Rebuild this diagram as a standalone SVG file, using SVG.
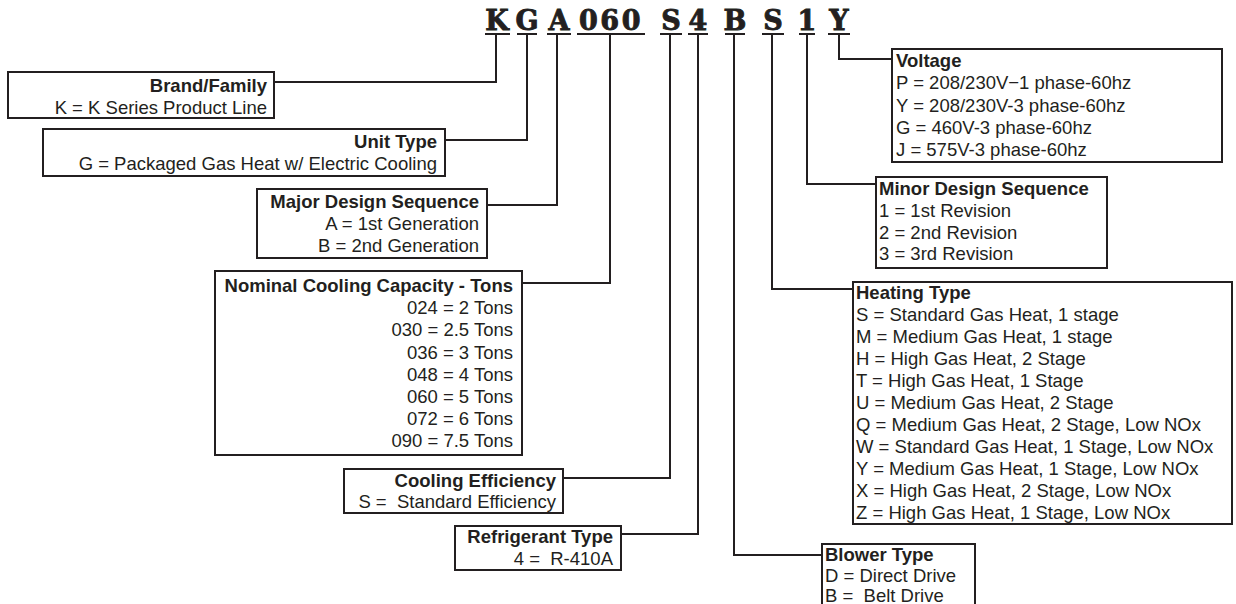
<svg xmlns="http://www.w3.org/2000/svg" width="1236" height="604" viewBox="0 0 1236 604">
<style>
.box{fill:#fff;stroke:#231f20;stroke-width:2}
.ln{fill:none;stroke:#231f20;stroke-width:2}
.t{font-family:"Liberation Sans",Arial,sans-serif;font-size:18.5px;fill:#231f20}
.h{font-weight:bold}
.r{text-anchor:end}
.code{font-family:"DejaVu Serif","Liberation Serif",serif;font-weight:bold;font-size:27px;fill:#231f20;stroke:#231f20;stroke-width:0.9;text-anchor:middle}
</style>
<rect width="1236" height="604" fill="#fff"/>
<g id="code">
<text class="code" x="497" y="30">K</text>
<text class="code" x="527" y="30">G</text>
<text class="code" x="559" y="30">A</text>
<text class="code" x="611" y="30" letter-spacing="2.5">060</text>
<text class="code" x="671" y="30">S</text>
<text class="code" x="698" y="30">4</text>
<text class="code" x="735" y="30">B</text>
<text class="code" x="773" y="30">S</text>
<text class="code" x="807" y="30">1</text>
<text class="code" x="839" y="30">Y</text>
<path class="ln" d="M485 34H510M517 34H537M547 34H571M577 34H645M660 34H682M688 34H708M725 34H745M762 34H784M799 34H815M828 34H850"/>
</g>
<g id="connectors">
<path class="ln" d="M496 34V82H274"/>
<path class="ln" d="M527 34V140H445"/>
<path class="ln" d="M557 34V205H487"/>
<path class="ln" d="M610 34V283H522"/>
<path class="ln" d="M670 34V478H563"/>
<path class="ln" d="M698 34V534H621"/>
<path class="ln" d="M839 34V59H892"/>
<path class="ln" d="M807 34V184H876"/>
<path class="ln" d="M772 34V289H853"/>
<path class="ln" d="M734 34V555H822"/>
</g>
<g id="brand">
<rect class="box" x="8" y="72" width="266" height="46"/>
<text class="t h r" x="267" y="91.5">Brand/Family</text>
<text class="t r" x="267" y="113.5">K = K Series Product Line</text>
</g>
<g id="unit">
<rect class="box" x="43" y="129" width="402" height="47"/>
<text class="t h r" x="437" y="148">Unit Type</text>
<text class="t r" x="437" y="170">G = Packaged Gas Heat w/ Electric Cooling</text>
</g>
<g id="major">
<rect class="box" x="257" y="189" width="230" height="69"/>
<text class="t h r" x="479" y="208">Major Design Sequence</text>
<text class="t r" x="479" y="230">A = 1st Generation</text>
<text class="t r" x="479" y="252">B = 2nd Generation</text>
</g>
<g id="capacity">
<rect class="box" x="215" y="271" width="307" height="184"/>
<text class="t h r" x="513" y="292">Nominal Cooling Capacity - Tons</text>
<text class="t r" x="513" y="314">024 = 2 Tons</text>
<text class="t r" x="513" y="336">030 = 2.5 Tons</text>
<text class="t r" x="513" y="358.5">036 = 3 Tons</text>
<text class="t r" x="513" y="381">048 = 4 Tons</text>
<text class="t r" x="513" y="403">060 = 5 Tons</text>
<text class="t r" x="513" y="425">072 = 6 Tons</text>
<text class="t r" x="513" y="447">090 = 7.5 Tons</text>
</g>
<g id="efficiency">
<rect class="box" x="344" y="469" width="219" height="44"/>
<text class="t h r" x="556" y="487">Cooling Efficiency</text>
<text class="t r" x="556" y="508" xml:space="preserve">S =  Standard Efficiency</text>
</g>
<g id="refrigerant">
<rect class="box" x="455" y="526" width="166" height="44"/>
<text class="t h r" x="613" y="543">Refrigerant Type</text>
<text class="t r" x="613" y="565" xml:space="preserve">4 =  R-410A</text>
</g>
<g id="voltage">
<rect class="box" x="892" y="49" width="330" height="113"/>
<text class="t h" x="896" y="67">Voltage</text>
<text class="t" x="896" y="89">P = 208/230V−1 phase-60hz</text>
<text class="t" x="896" y="111.5">Y = 208/230V-3 phase-60hz</text>
<text class="t" x="896" y="133.5">G = 460V-3 phase-60hz</text>
<text class="t" x="896" y="156">J = 575V-3 phase-60hz</text>
</g>
<g id="minor">
<rect class="box" x="876" y="177" width="231" height="91"/>
<text class="t h" x="879" y="195">Minor Design Sequence</text>
<text class="t" x="879" y="217">1 = 1st Revision</text>
<text class="t" x="879" y="238.5">2 = 2nd Revision</text>
<text class="t" x="879" y="260">3 = 3rd Revision</text>
</g>
<g id="heating">
<rect class="box" x="853" y="282" width="379" height="242"/>
<text class="t h" x="856" y="299">Heating Type</text>
<text class="t" x="856" y="321">S = Standard Gas Heat, 1 stage</text>
<text class="t" x="856" y="343">M = Medium Gas Heat, 1 stage</text>
<text class="t" x="856" y="365">H = High Gas Heat, 2 Stage</text>
<text class="t" x="856" y="387">T = High Gas Heat, 1 Stage</text>
<text class="t" x="856" y="409">U = Medium Gas Heat, 2 Stage</text>
<text class="t" x="856" y="431">Q = Medium Gas Heat, 2 Stage, Low NOx</text>
<text class="t" x="856" y="453">W = Standard Gas Heat, 1 Stage, Low NOx</text>
<text class="t" x="856" y="475">Y = Medium Gas Heat, 1 Stage, Low NOx</text>
<text class="t" x="856" y="497">X = High Gas Heat, 2 Stage, Low NOx</text>
<text class="t" x="856" y="519">Z = High Gas Heat, 1 Stage, Low NOx</text>
</g>
<g id="blower">
<rect class="box" x="822" y="544" width="153" height="80"/>
<text class="t h" x="825" y="561">Blower Type</text>
<text class="t" x="825" y="582">D = Direct Drive</text>
<text class="t" x="825" y="602" xml:space="preserve">B =  Belt Drive</text>
</g>
</svg>
